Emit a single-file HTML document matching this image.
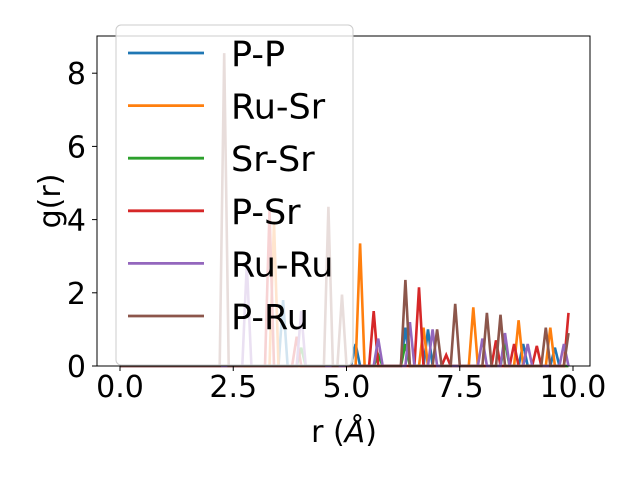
<!DOCTYPE html>
<html><head><meta charset="utf-8"><style>
body{margin:0;background:#fff;}
svg text{font-family:"DejaVu Sans","Liberation Sans",sans-serif;fill:#000;}
</style></head><body>
<svg id="chart" width="640" height="480" viewBox="0 0 640 480" xmlns="http://www.w3.org/2000/svg">
<g id="plot"></g>
<rect x="97" y="36" width="493" height="330" fill="none" stroke="#000" stroke-width="1"/>
<g id="ticks"></g>
<text x="344" y="442" font-size="30" text-anchor="middle">r (<tspan font-style="italic">Å</tspan>)</text>
<text transform="translate(60,201) rotate(-90)" font-size="30" text-anchor="middle">g(r)</text>
<g id="legend"></g>
</svg>
<script>
const seriesNames=["P-P","Ru-Sr","Sr-Sr","P-Sr","Ru-Ru","P-Ru"];
const seriesColors=["#1f77b4","#ff7f0e","#2ca02c","#d62728","#9467bd","#8c564b"];
const ppR=[3.6,5.2,6.3,6.8,8.9,9.6];
const ppG=[1.8,0.6,1.05,1.0,0.6,0.5];
const rusrR=[3.4,5.3,6.7,7.8,8.8,9.5];
const rusrG=[3.95,3.35,1.05,1.6,1.25,1.05];
const srsrR=[4.0,5.7,6.3,8.5];
const srsrG=[0.5,0.3,0.6,0.65];
const psrR=[3.3,3.9,5.6,6.6,7.2,8.3,8.7,9.2,9.9];
const psrG=[4.25,0.8,1.5,2.15,0.3,0.7,0.6,0.55,1.45];
const ruruR=[2.8,4.0,5.7,6.4,6.9,8.0,8.5,9.0,9.8];
const ruruG=[2.8,1.5,0.75,1.2,1.0,0.75,0.9,0.6,0.6];
const pruR=[2.3,4.6,4.9,6.3,7.0,7.4,8.1,8.4,9.4,9.9];
const pruG=[8.55,4.35,1.95,2.35,1.0,1.7,1.45,1.4,1.05,0.9];
const xTicks=[0,2.5,5,7.5,10];
const xTickLabels=["0.0","2.5","5.0","7.5","10.0"];
const yTicks=[0,2,4,6,8];
const allR=[ppR,rusrR,srsrR,psrR,ruruR,pruR];
const allG=[ppG,rusrG,srsrG,psrG,ruruG,pruG];
const NS="http://www.w3.org/2000/svg";
const xs=r=>120+r*45.3;
const ys=g=>366-g*36.6;
const step=0.1;
function buildPath(R,G){
  const n=Math.round(9.9/step);
  const vals=new Array(n+1).fill(0);
  R.forEach((r,i)=>{vals[Math.round(r/step)]=G[i];});
  return vals.map((v,i)=>(i?"L":"M")+xs(i*step).toFixed(1)+","+ys(v).toFixed(1)).join("");
}
const plot=document.getElementById("plot");
allR.forEach((R,k)=>{
  const p=document.createElementNS(NS,"path");
  p.setAttribute("d",buildPath(R,allG[k]));
  p.setAttribute("fill","none");
  p.setAttribute("stroke",seriesColors[k]);
  p.setAttribute("stroke-width","2.6");
  
  
  plot.appendChild(p);
});
const ticks=document.getElementById("ticks");
xTicks.forEach((t,i)=>{
  const l=document.createElementNS(NS,"line");
  l.setAttribute("x1",xs(t));l.setAttribute("x2",xs(t));l.setAttribute("y1",366);l.setAttribute("y2",371);l.setAttribute("stroke","#000");
  
  
  ticks.appendChild(l);
  const tx=document.createElementNS(NS,"text");
  tx.setAttribute("x",xs(t));tx.setAttribute("y",397);tx.setAttribute("font-size","30");tx.setAttribute("text-anchor","middle");
  tx.textContent=xTickLabels[i];
  
  
  ticks.appendChild(tx);
});
yTicks.forEach(t=>{
  const l=document.createElementNS(NS,"line");
  l.setAttribute("x1",92);l.setAttribute("x2",97);l.setAttribute("y1",ys(t));l.setAttribute("y2",ys(t));l.setAttribute("stroke","#000");
  
  
  ticks.appendChild(l);
  const tx=document.createElementNS(NS,"text");
  tx.setAttribute("x",86);tx.setAttribute("y",ys(t)+11);tx.setAttribute("font-size","30");tx.setAttribute("text-anchor","end");
  tx.textContent=String(t);
  
  
  ticks.appendChild(tx);
});
const lg=document.getElementById("legend");
const bg=document.createElementNS(NS,"rect");
bg.setAttribute("x",116);bg.setAttribute("y",25);bg.setAttribute("width",237);bg.setAttribute("height",340);bg.setAttribute("rx",5);
bg.setAttribute("fill","rgba(255,255,255,0.8)");bg.setAttribute("stroke","#ccc");


lg.appendChild(bg);
seriesNames.forEach((nm,k)=>{
  const y=53+k*52.6;
  const l=document.createElementNS(NS,"line");
  l.setAttribute("x1",128);l.setAttribute("x2",204);l.setAttribute("y1",y);l.setAttribute("y2",y);
  l.setAttribute("stroke",seriesColors[k]);l.setAttribute("stroke-width","2.8");
  
  
  lg.appendChild(l);
  const t=document.createElementNS(NS,"text");
  t.setAttribute("x",231);t.setAttribute("y",y+13);t.setAttribute("font-size","35");
  t.textContent=nm;
  
  
  lg.appendChild(t);
});
</script>
</body></html>
